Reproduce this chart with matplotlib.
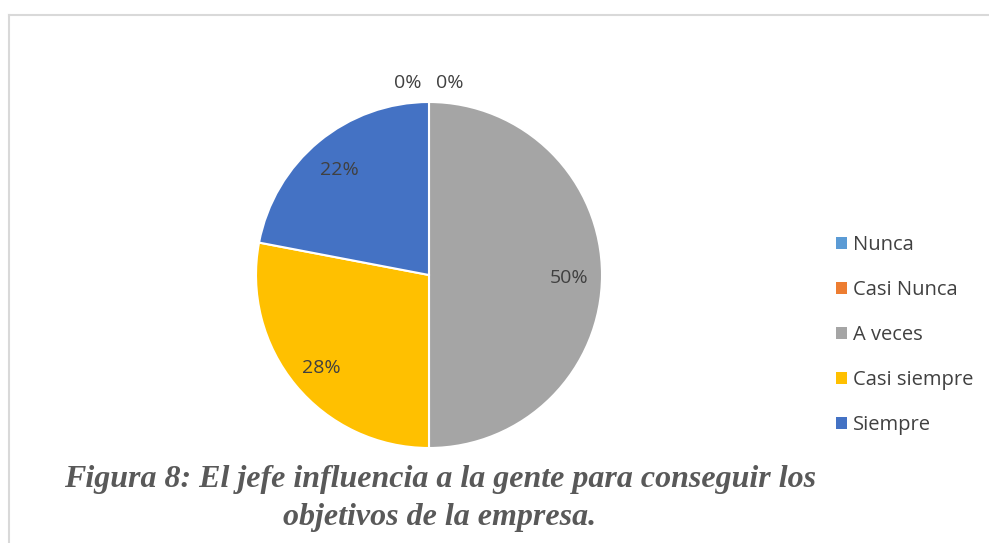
import numpy as np
import matplotlib.pyplot as plt
from matplotlib.lines import Line2D

categories = ["Nunca", "Casi Nunca", "A veces", "Casi siempre", "Siempre"]
percents = [0, 0, 50, 28, 22]
colors = ["#5B9BD5", "#ED7D31", "#A5A5A5", "#FFC000", "#4472C4"]
caption_lines = ["Figura 8: El jefe influencia a la gente para conseguir los",
                 "objetivos de la empresa."]

W, H = 989, 543
fig = plt.figure(figsize=(W / 100, H / 100), dpi=100)

# light frame of the chart area (top and left edges only visible)
fig.add_artist(Line2D([9 / W, 1], [1 - 15 / H, 1 - 15 / H], color="#D9D9D9", lw=1.5))
fig.add_artist(Line2D([9 / W, 9 / W], [0, 1 - 15 / H], color="#D9D9D9", lw=1.5))

cx, cy, r = 429, 275, 173
ax = fig.add_axes([(cx - r) / W, (H - cy - r) / H, 2 * r / W, 2 * r / H])
wedges, _ = ax.pie(percents, colors=colors, startangle=90, counterclock=False,
                   radius=1, wedgeprops=dict(edgecolor="white", linewidth=1.5))
ax.set_xlim(-1, 1)
ax.set_ylim(-1, 1)
ax.set_aspect("equal")
ax.axis("off")

lab_font = dict(family="Open Sans", size=14, color="#404040")
for i, (w, p) in enumerate(zip(wedges, percents)):
    mid = np.deg2rad((w.theta1 + w.theta2) / 2)
    if p > 0:
        d = 0.81
        ax.text(d * np.cos(mid), d * np.sin(mid) - 0.02, f"{p}%", ha="center", va="center", **lab_font)
    else:
        # zero-size slices: labels pushed outside, side by side
        d = 1.11
        dx = -0.125 if i == 0 else 0.12
        ax.text(d * np.cos(mid) + dx, d * np.sin(mid), f"{p}%", ha="center", va="center", **lab_font)

leg = fig.legend(wedges, categories, loc="upper left", bbox_to_anchor=(818 / W, 1 - 217 / H),
                 frameon=False, handlelength=0.55, handleheight=0.55, handletextpad=0.3,
                 labelspacing=1.24, prop=dict(family="Open Sans", size=14.5))
for t in leg.get_texts():
    t.set_color("#404040")
for h in leg.legend_handles:
    h.set_edgecolor("none")

cap_font = dict(family="Liberation Serif", style="italic", weight="bold", size=23, color="#595959")
fig.text(440 / W, 1 - 487 / H, caption_lines[0], ha="center", va="baseline", **cap_font)
fig.text(440 / W, 1 - 525 / H, caption_lines[1], ha="center", va="baseline", **cap_font)

fig.savefig("out.png", dpi=100)
